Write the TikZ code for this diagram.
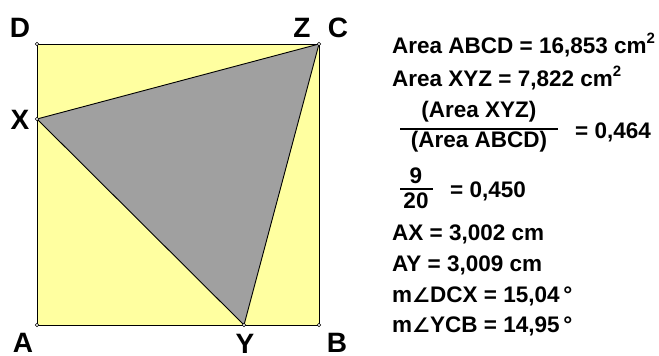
\documentclass[tikz,border=0pt]{standalone}
\usepackage{fontspec}
\setmainfont{Liberation Sans}
\newfontfamily\dejavu{DejaVu Sans}
\definecolor{sqyellow}{RGB}{255,255,160}
\definecolor{trigray}{RGB}{160,160,160}
\newcommand{\sqr}{\raisebox{0.42em}{\fontsize{15}{15}\selectfont 2}}
\newcommand{\angsym}{{\dejavu\fontsize{20}{20}\selectfont ∠}}
\begin{document}
\begin{tikzpicture}[x=1pt,y=-1pt,
  ptlabel/.style={font=\fontsize{28}{28}\selectfont\bfseries, anchor=base, inner sep=0pt},
  meas/.style={font=\fontsize{22.5}{22.5}\selectfont\bfseries, anchor=base west, inner sep=0pt},
  fracpart/.style={font=\fontsize{22.5}{22.5}\selectfont\bfseries, anchor=base, inner sep=0pt},
  vertex/.style={circle, draw=black, fill=white, inner sep=0pt, minimum size=3.4pt, line width=0.5pt}]
\useasboundingbox (0,0) rectangle (659,356);
% points
\coordinate (A) at (37,325);
\coordinate (B) at (319,325);
\coordinate (C) at (319,44);
\coordinate (D) at (37,44);
\coordinate (X) at (37,119);
\coordinate (Y) at (244,325);
\coordinate (Z) at (319,44);
% square and triangle
\fill[sqyellow] (A) -- (B) -- (C) -- (D) -- cycle;
\filldraw[fill=trigray, draw=black, line width=0.9pt, line join=round] (X) -- (Y) -- (Z) -- cycle;
\draw[black, line width=0.9pt] (A) -- (B) -- (C) -- (D) -- cycle;
% vertices
\foreach \p in {A,B,C,D,X,Y} \node[vertex] at (\p) {};
% labels
\node[ptlabel] (lD) at (20,37) {D};
\node[ptlabel] (lZ) at (302,37) {Z};
\node[ptlabel] (lC) at (338,37) {C};
\node[ptlabel] (lX) at (20,129) {X};
\node[ptlabel] (lA) at (23,352) {A};
\node[ptlabel] (lY) at (245,353) {Y};
\node[ptlabel] (lB) at (337,352) {B};
% measurements
\node[meas] (m1) at (392,53) {Area ABCD = 16,853 cm\sqr};
\node[meas] (m2) at (392,86) {Area XYZ = 7,822 cm\sqr};
\node[fracpart] (n1) at (479,117) {(Area XYZ)};
\node[fracpart] (d1) at (479,147) {(Area ABCD)};
\draw[line width=1.5pt] (400,129) -- (558,129);
\node[meas] (m3) at (575,138) {= 0,464};
\node[fracpart] (n2) at (416,183) {9};
\node[fracpart] (d2) at (416,208) {20};
\draw[line width=1.5pt] (400,189) -- (433,189);
\node[meas] (m4) at (450,197) {= 0,450};
\node[meas] (m5) at (392,240) {AX = 3,002 cm};
\node[meas] (m6) at (392,271) {AY = 3,009 cm};
\node[meas] (m7) at (392,302) {m\angsym DCX = 15,04\,°};
\node[meas] (m8) at (392,332) {m\angsym YCB = 14,95\,°};
\end{tikzpicture}
\end{document}
